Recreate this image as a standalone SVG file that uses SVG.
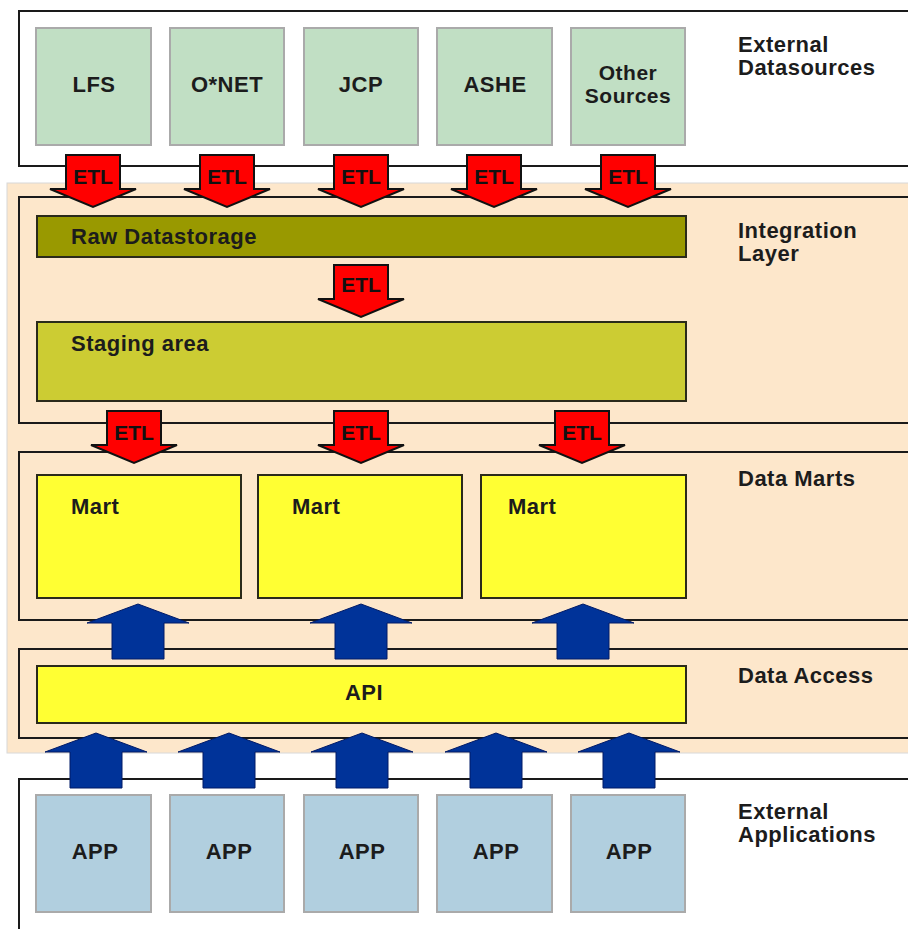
<svg xmlns="http://www.w3.org/2000/svg" width="908" height="929" viewBox="0 0 908 929">
<style>
  text { font-family: "Liberation Sans", Arial, sans-serif; font-weight: bold; font-size: 22px; fill: #1c1c1c; letter-spacing: 0.5px; }
  .mid { text-anchor: middle; }
  .small { font-size: 21px; }
  .frame { fill: none; stroke: #1a1a1a; stroke-width: 2; }
  .src { fill: #c1dfc4; stroke: #aaaaaa; stroke-width: 2; }
  .app { fill: #b1cfdf; stroke: #aaaaaa; stroke-width: 2; }
  .bar { stroke: #2a2a1a; stroke-width: 2; }
  .etl { fill: #ff0000; stroke: #111; stroke-width: 2; stroke-linejoin: miter; }
  .up { fill: #003399; stroke: #001a66; stroke-width: 1; }
  .etltext { font-size: 21px; letter-spacing: 0; fill: #111; }
</style>
<defs>
  <path id="etlArrow" d="M-27,0 H27 V34 H43 L0,52 L-43,34 H-27 Z"/>
  <path id="upArrow" d="M0,0 L51,19 H26 V55 H-26 V19 H-51 Z"/>
</defs>

<rect x="0" y="0" width="908" height="929" fill="#ffffff"/>

<!-- Layer backgrounds and frames -->
<g id="layers">
  <rect x="7" y="183" width="910" height="570" fill="#fde7cb" stroke="#d8d8d8" stroke-width="1"/>
  <rect class="frame" x="19" y="11" width="900" height="155"/>
  <rect class="frame" x="19" y="197" width="900" height="226"/>
  <rect class="frame" x="19" y="452" width="900" height="168"/>
  <rect class="frame" x="19" y="649" width="900" height="89"/>
  <rect class="frame" x="19" y="779" width="900" height="170"/>
</g>

<!-- Layer labels -->
<g id="layer-labels">
  <text x="738" y="52">External</text>
  <text x="738" y="75">Datasources</text>
  <text x="738" y="238">Integration</text>
  <text x="738" y="261">Layer</text>
  <text x="738" y="486">Data Marts</text>
  <text x="738" y="683">Data Access</text>
  <text x="738" y="819">External</text>
  <text x="738" y="842">Applications</text>
</g>

<!-- External datasources -->
<g id="src-lfs"><rect class="src" x="36" y="28" width="115" height="117"/><text class="mid" x="94" y="92">LFS</text></g>
<g id="src-onet"><rect class="src" x="170" y="28" width="114" height="117"/><text class="mid" x="227" y="92">O*NET</text></g>
<g id="src-jcp"><rect class="src" x="304" y="28" width="114" height="117"/><text class="mid" x="361" y="92">JCP</text></g>
<g id="src-ashe"><rect class="src" x="437" y="28" width="115" height="117"/><text class="mid" x="495" y="92">ASHE</text></g>
<g id="src-other"><rect class="src" x="571" y="28" width="114" height="117"/><text class="mid small" x="628" y="80">Other</text><text class="mid small" x="628" y="103">Sources</text></g>

<!-- Integration layer -->
<g id="raw-datastorage"><rect class="bar" x="37" y="216" width="649" height="41" fill="#999900"/><text x="71" y="244">Raw Datastorage</text></g>
<g id="staging-area"><rect class="bar" x="37" y="322" width="649" height="79" fill="#cccc33"/><text x="71" y="351">Staging area</text></g>

<!-- Data marts -->
<g id="mart-1"><rect class="bar" x="37" y="475" width="204" height="123" fill="#ffff33"/><text x="71" y="514">Mart</text></g>
<g id="mart-2"><rect class="bar" x="258" y="475" width="204" height="123" fill="#ffff33"/><text x="292" y="514">Mart</text></g>
<g id="mart-3"><rect class="bar" x="481" y="475" width="205" height="123" fill="#ffff33"/><text x="508" y="514">Mart</text></g>

<!-- Data access -->
<g id="api"><rect class="bar" x="37" y="666" width="649" height="57" fill="#ffff33"/><text class="mid" x="364" y="700">API</text></g>

<!-- External applications -->
<g id="app-1"><rect class="app" x="36" y="795" width="115" height="117"/><text class="mid" x="95" y="859">APP</text></g>
<g id="app-2"><rect class="app" x="170" y="795" width="114" height="117"/><text class="mid" x="229" y="859">APP</text></g>
<g id="app-3"><rect class="app" x="304" y="795" width="114" height="117"/><text class="mid" x="362" y="859">APP</text></g>
<g id="app-4"><rect class="app" x="437" y="795" width="115" height="117"/><text class="mid" x="496" y="859">APP</text></g>
<g id="app-5"><rect class="app" x="571" y="795" width="114" height="117"/><text class="mid" x="629" y="859">APP</text></g>

<!-- Connectors -->
<g id="connectors">
  <use href="#etlArrow" class="etl" transform="translate(93,155)"/>
  <use href="#etlArrow" class="etl" transform="translate(227,155)"/>
  <use href="#etlArrow" class="etl" transform="translate(361,155)"/>
  <use href="#etlArrow" class="etl" transform="translate(494,155)"/>
  <use href="#etlArrow" class="etl" transform="translate(628,155)"/>
  <text class="mid etltext" x="93" y="184">ETL</text>
  <text class="mid etltext" x="227" y="184">ETL</text>
  <text class="mid etltext" x="361" y="184">ETL</text>
  <text class="mid etltext" x="494" y="184">ETL</text>
  <text class="mid etltext" x="628" y="184">ETL</text>

  <use href="#etlArrow" class="etl" transform="translate(361,265)"/>
  <text class="mid etltext" x="361" y="292">ETL</text>

  <use href="#etlArrow" class="etl" transform="translate(134,411)"/>
  <use href="#etlArrow" class="etl" transform="translate(361,411)"/>
  <use href="#etlArrow" class="etl" transform="translate(582,411)"/>
  <text class="mid etltext" x="134" y="440">ETL</text>
  <text class="mid etltext" x="361" y="440">ETL</text>
  <text class="mid etltext" x="582" y="440">ETL</text>

  <use href="#upArrow" class="up" transform="translate(138,604)"/>
  <use href="#upArrow" class="up" transform="translate(361,604)"/>
  <use href="#upArrow" class="up" transform="translate(583,604)"/>

  <use href="#upArrow" class="up" transform="translate(96,733)"/>
  <use href="#upArrow" class="up" transform="translate(229,733)"/>
  <use href="#upArrow" class="up" transform="translate(362,733)"/>
  <use href="#upArrow" class="up" transform="translate(496,733)"/>
  <use href="#upArrow" class="up" transform="translate(629,733)"/>
</g>
</svg>
